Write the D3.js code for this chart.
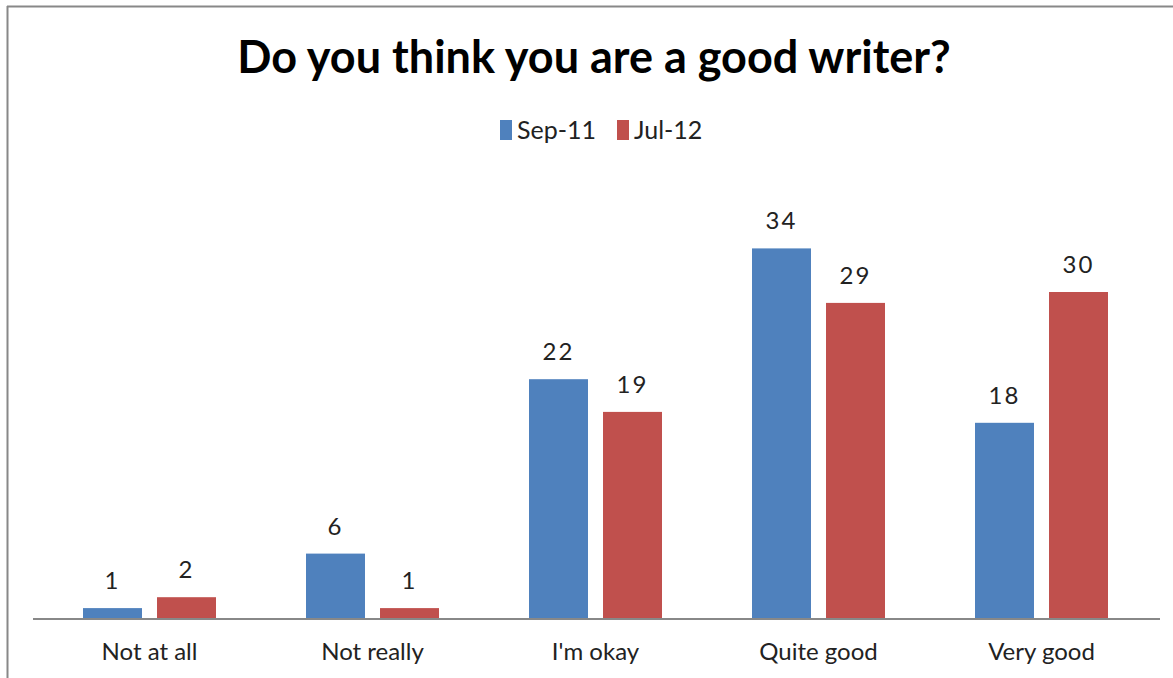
<!DOCTYPE html>
<html><head><meta charset="utf-8">
<script src="https://cdn.jsdelivr.net/npm/d3@7"></script>
<style>body{margin:0;background:#fff;} svg{display:block;}</style>
</head><body>
<script>
const categories = ["Not at all", "Not really", "I'm okay", "Quite good", "Very good"];
const seriesNames = ["Sep-11", "Jul-12"];
const sep11 = [1, 6, 22, 34, 18];
const jul12 = [2, 1, 19, 29, 30];
const colors = ["#4F81BD", "#C0504D"];

const W = 1173, H = 678;
const svg = d3.select("body").append("svg").attr("width", W).attr("height", H);
svg.append("rect").attr("width", W).attr("height", H).attr("fill", "#fff");
// frame
svg.append("line").attr("x1", 7).attr("x2", W).attr("y1", 6.5).attr("y2", 6.5).attr("stroke", "#888").attr("stroke-width", 2);
svg.append("line").attr("x1", 7.5).attr("x2", 7.5).attr("y1", 6).attr("y2", H).attr("stroke", "#888").attr("stroke-width", 2);

const font = "Lato, 'Open Sans', sans-serif";
svg.append("text").attr("x", 594).attr("y", 73).attr("text-anchor", "middle")
  .attr("font-family", font).attr("font-weight", "bold").attr("font-size", 45).attr("fill", "#000")
  .text("Do you think you are a good writer?");

// legend
const legendX = [500, 617];
seriesNames.forEach((s, i) => {
  svg.append("rect").attr("x", legendX[i]).attr("y", 120).attr("width", 12).attr("height", 20).attr("fill", colors[i]);
  svg.append("text").attr("x", legendX[i] + 17).attr("y", 139).attr("font-family", font)
    .attr("font-size", 25).attr("fill", "#222").text(s);
});

const baseY = 619;
const x = d3.scaleBand().domain(categories).range([38, 1153]).paddingInner(0).paddingOuter(0);
const x1 = d3.scaleBand().domain(seriesNames).range([0, x.bandwidth()]).paddingInner(0.203).paddingOuter(0.608);
const y = d3.scaleLinear().domain([0, 40]).range([baseY, baseY - 436]);

const data = categories.map((c, i) => ({cat: c, vals: [sep11[i], jul12[i]]}));
const g = svg.append("g");
data.forEach(d => {
  d.vals.forEach((v, j) => {
    const bx = x(d.cat) + x1(seriesNames[j]);
    g.append("rect").attr("x", bx).attr("y", y(v)).attr("width", x1.bandwidth())
      .attr("height", baseY - y(v)).attr("fill", colors[j]);
    g.append("text").attr("x", bx + x1.bandwidth() / 2).attr("y", y(v) - 19)
      .attr("text-anchor", "middle").attr("font-family", font).attr("font-size", 24)
      .attr("letter-spacing", 2).attr("fill", "#222").text(v);
  });
});

// axis
const axis = d3.axisBottom(x).tickSize(0).tickPadding(24);
const ag = svg.append("g").attr("transform", `translate(0,${baseY})`).call(axis);
ag.select(".domain").attr("stroke", "#888").attr("stroke-width", 2).attr("d", `M33,0H1160`);
ag.selectAll("text").attr("font-family", font).attr("font-size", 24).attr("fill", "#222");
</script>
</body></html>
